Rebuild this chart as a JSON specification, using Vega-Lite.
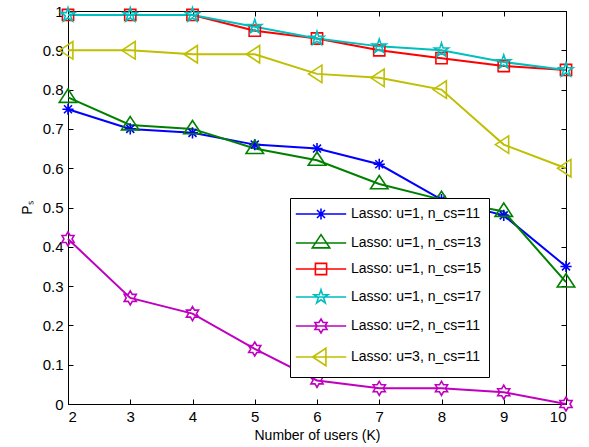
{
  "$schema": "https://vega.github.io/schema/vega-lite/v6.json",
  "width": 498,
  "height": 393,
  "autosize": {"type": "none"},
  "padding": {"left": 68, "top": 11, "right": 23, "bottom": 43},
  "background": "white",
  "config": {
    "font": "Liberation Sans",
    "view": {"stroke": "black", "strokeWidth": 1},
    "axis": {
      "grid": false,
      "domainColor": "black",
      "tickColor": "black",
      "labelColor": "black",
      "titleColor": "black",
      "labelFont": "Liberation Sans",
      "titleFont": "Liberation Sans",
      "labelFontSize": 15,
      "titleFontSize": 14,
      "titleFontWeight": "normal",
      "tickSize": -5,
      "labelPadding": 10
    },
    "legend": {
      "labelFont": "Liberation Sans",
      "labelFontSize": 14,
      "labelColor": "black"
    }
  },
  "data": {
    "values": [
      {"K": 2, "series": "Lasso: u=1, n_cs=11", "Ps": 0.75},
      {"K": 3, "series": "Lasso: u=1, n_cs=11", "Ps": 0.70},
      {"K": 4, "series": "Lasso: u=1, n_cs=11", "Ps": 0.69},
      {"K": 5, "series": "Lasso: u=1, n_cs=11", "Ps": 0.66},
      {"K": 6, "series": "Lasso: u=1, n_cs=11", "Ps": 0.65},
      {"K": 7, "series": "Lasso: u=1, n_cs=11", "Ps": 0.61},
      {"K": 8, "series": "Lasso: u=1, n_cs=11", "Ps": 0.52},
      {"K": 9, "series": "Lasso: u=1, n_cs=11", "Ps": 0.48},
      {"K": 10, "series": "Lasso: u=1, n_cs=11", "Ps": 0.35},
      {"K": 2, "series": "Lasso: u=1, n_cs=13", "Ps": 0.78},
      {"K": 3, "series": "Lasso: u=1, n_cs=13", "Ps": 0.71},
      {"K": 4, "series": "Lasso: u=1, n_cs=13", "Ps": 0.70},
      {"K": 5, "series": "Lasso: u=1, n_cs=13", "Ps": 0.65},
      {"K": 6, "series": "Lasso: u=1, n_cs=13", "Ps": 0.62},
      {"K": 7, "series": "Lasso: u=1, n_cs=13", "Ps": 0.56},
      {"K": 8, "series": "Lasso: u=1, n_cs=13", "Ps": 0.52},
      {"K": 9, "series": "Lasso: u=1, n_cs=13", "Ps": 0.49},
      {"K": 10, "series": "Lasso: u=1, n_cs=13", "Ps": 0.31},
      {"K": 2, "series": "Lasso: u=1, n_cs=15", "Ps": 0.99},
      {"K": 3, "series": "Lasso: u=1, n_cs=15", "Ps": 0.99},
      {"K": 4, "series": "Lasso: u=1, n_cs=15", "Ps": 0.99},
      {"K": 5, "series": "Lasso: u=1, n_cs=15", "Ps": 0.95},
      {"K": 6, "series": "Lasso: u=1, n_cs=15", "Ps": 0.93},
      {"K": 7, "series": "Lasso: u=1, n_cs=15", "Ps": 0.90},
      {"K": 8, "series": "Lasso: u=1, n_cs=15", "Ps": 0.88},
      {"K": 9, "series": "Lasso: u=1, n_cs=15", "Ps": 0.86},
      {"K": 10, "series": "Lasso: u=1, n_cs=15", "Ps": 0.85},
      {"K": 2, "series": "Lasso: u=1, n_cs=17", "Ps": 0.99},
      {"K": 3, "series": "Lasso: u=1, n_cs=17", "Ps": 0.99},
      {"K": 4, "series": "Lasso: u=1, n_cs=17", "Ps": 0.99},
      {"K": 5, "series": "Lasso: u=1, n_cs=17", "Ps": 0.96},
      {"K": 6, "series": "Lasso: u=1, n_cs=17", "Ps": 0.93},
      {"K": 7, "series": "Lasso: u=1, n_cs=17", "Ps": 0.91},
      {"K": 8, "series": "Lasso: u=1, n_cs=17", "Ps": 0.90},
      {"K": 9, "series": "Lasso: u=1, n_cs=17", "Ps": 0.87},
      {"K": 10, "series": "Lasso: u=1, n_cs=17", "Ps": 0.85},
      {"K": 2, "series": "Lasso: u=2, n_cs=11", "Ps": 0.42},
      {"K": 3, "series": "Lasso: u=2, n_cs=11", "Ps": 0.27},
      {"K": 4, "series": "Lasso: u=2, n_cs=11", "Ps": 0.23},
      {"K": 5, "series": "Lasso: u=2, n_cs=11", "Ps": 0.14},
      {"K": 6, "series": "Lasso: u=2, n_cs=11", "Ps": 0.06},
      {"K": 7, "series": "Lasso: u=2, n_cs=11", "Ps": 0.04},
      {"K": 8, "series": "Lasso: u=2, n_cs=11", "Ps": 0.04},
      {"K": 9, "series": "Lasso: u=2, n_cs=11", "Ps": 0.03},
      {"K": 10, "series": "Lasso: u=2, n_cs=11", "Ps": 0.00},
      {"K": 2, "series": "Lasso: u=3, n_cs=11", "Ps": 0.90},
      {"K": 3, "series": "Lasso: u=3, n_cs=11", "Ps": 0.90},
      {"K": 4, "series": "Lasso: u=3, n_cs=11", "Ps": 0.89},
      {"K": 5, "series": "Lasso: u=3, n_cs=11", "Ps": 0.89},
      {"K": 6, "series": "Lasso: u=3, n_cs=11", "Ps": 0.84},
      {"K": 7, "series": "Lasso: u=3, n_cs=11", "Ps": 0.83},
      {"K": 8, "series": "Lasso: u=3, n_cs=11", "Ps": 0.80},
      {"K": 9, "series": "Lasso: u=3, n_cs=11", "Ps": 0.66},
      {"K": 10, "series": "Lasso: u=3, n_cs=11", "Ps": 0.60}
    ]
  },
  "layer": [
    {
      "mark": {"type": "line", "strokeWidth": 2},
      "encoding": {
        "x": {"field": "K", "type": "quantitative", "scale": {"domain": [2, 10], "nice": false, "zero": false},
              "axis": {"orient": "bottom", "title": "Number of users (K)", "values": [2,3,4,5,6,7,8,9,10], "format": "d", "titlePadding": 4}},
        "y": {"field": "Ps", "type": "quantitative", "scale": {"domain": [0, 1], "nice": false},
              "axis": {"orient": "left", "title": "Pₛ", "values": [0,0.1,0.2,0.3,0.4,0.5,0.6,0.7,0.8,0.9,1], "format": "~g", "titlePadding": 8}},
        "color": {"field": "series", "type": "nominal", "legend": null,
          "scale": {"domain": ["Lasso: u=1, n_cs=11","Lasso: u=1, n_cs=13","Lasso: u=1, n_cs=15","Lasso: u=1, n_cs=17","Lasso: u=2, n_cs=11","Lasso: u=3, n_cs=11"],
                    "range": ["#0000FF","#008000","#FF0000","#00BFBF","#BF00BF","#BFBF00"]}}
      }
    },
    {
      "mark": {"type": "point", "filled": false, "strokeWidth": 1.6, "size": 196, "opacity": 1},
      "encoding": {
        "x": {"field": "K", "type": "quantitative",
              "axis": {"orient": "top", "title": null, "labels": false, "values": [2,3,4,5,6,7,8,9,10]}},
        "y": {"field": "Ps", "type": "quantitative",
              "axis": {"orient": "right", "title": null, "labels": false, "values": [0,0.1,0.2,0.3,0.4,0.5,0.6,0.7,0.8,0.9,1]}},
        "color": {"field": "series", "type": "nominal", "legend": null,
          "scale": {"domain": ["Lasso: u=1, n_cs=11","Lasso: u=1, n_cs=13","Lasso: u=1, n_cs=15","Lasso: u=1, n_cs=17","Lasso: u=2, n_cs=11","Lasso: u=3, n_cs=11"],
                    "range": ["#0000FF","#008000","#FF0000","#00BFBF","#BF00BF","#BFBF00"]}},
        "shape": {"field": "series", "type": "nominal", "legend": null,
          "scale": {"domain": ["Lasso: u=1, n_cs=11","Lasso: u=1, n_cs=13","Lasso: u=1, n_cs=15","Lasso: u=1, n_cs=17","Lasso: u=2, n_cs=11","Lasso: u=3, n_cs=11"],
                    "range": [
                      "M-0.8,0L0.8,0M0,-0.8L0,0.8M-0.57,-0.57L0.57,0.57M-0.57,0.57L0.57,-0.57",
                      "M0,-1.2L1.25,0.7L-1.25,0.7Z",
                      "M-0.8,-0.8L0.8,-0.8L0.8,0.8L-0.8,0.8Z",
                      "M0,-1.05L0.236,-0.324L0.999,-0.324L0.381,0.124L0.617,0.849L0,0.401L-0.617,0.849L-0.381,0.124L-0.999,-0.324L-0.236,-0.324Z",
                      "M0,-1L0.289,-0.5L0.866,-0.5L0.577,0L0.866,0.5L0.289,0.5L0,1L-0.289,0.5L-0.866,0.5L-0.577,0L-0.866,-0.5L-0.289,-0.5Z",
                      "M-1.2,0L0.7,-1.25L0.7,1.25Z"
                    ]}}
      }
    },
    {
      "transform": [{"filter": "false"}],
      "mark": {"type": "point", "filled": false, "strokeWidth": 1.6, "size": 196, "opacity": 1},
      "encoding": {
        "x": {"field": "K", "type": "quantitative", "axis": null},
        "y": {"field": "Ps", "type": "quantitative", "axis": null},
        "color": {"field": "series", "type": "nominal",
          "scale": {"domain": ["Lasso: u=1, n_cs=11","Lasso: u=1, n_cs=13","Lasso: u=1, n_cs=15","Lasso: u=1, n_cs=17","Lasso: u=2, n_cs=11","Lasso: u=3, n_cs=11"],
                    "range": ["#0000FF","#008000","#FF0000","#00BFBF","#BF00BF","#BFBF00"]},
          "legend": {"title": null, "orient": "none", "legendX": 222, "legendY": 187,
                     "strokeColor": "black", "fillColor": "white", "padding": 8, "cornerRadius": 0,
                     "symbolSize": 196, "symbolStrokeWidth": 1.6, "symbolOffset": 15, "labelOffset": 22, "rowPadding": 8,
                     "labelLimit": 300}},
        "shape": {"field": "series", "type": "nominal",
          "scale": {"domain": ["Lasso: u=1, n_cs=11","Lasso: u=1, n_cs=13","Lasso: u=1, n_cs=15","Lasso: u=1, n_cs=17","Lasso: u=2, n_cs=11","Lasso: u=3, n_cs=11"],
                    "range": [
                      "M-3.6,0L3.6,0M-0.8,0L0.8,0M0,-0.8L0,0.8M-0.57,-0.57L0.57,0.57M-0.57,0.57L0.57,-0.57",
                      "M-3.6,0L3.6,0M0,-1.2L1.25,0.7L-1.25,0.7Z",
                      "M-3.6,0L3.6,0M-0.8,-0.8L0.8,-0.8L0.8,0.8L-0.8,0.8Z",
                      "M-3.6,0L3.6,0M0,-1.05L0.236,-0.324L0.999,-0.324L0.381,0.124L0.617,0.849L0,0.401L-0.617,0.849L-0.381,0.124L-0.999,-0.324L-0.236,-0.324Z",
                      "M-3.6,0L3.6,0M0,-1L0.289,-0.5L0.866,-0.5L0.577,0L0.866,0.5L0.289,0.5L0,1L-0.289,0.5L-0.866,0.5L-0.577,0L-0.866,-0.5L-0.289,-0.5Z",
                      "M-3.6,0L3.6,0M-1.2,0L0.7,-1.25L0.7,1.25Z"
                    ]},
          "legend": {"title": null, "orient": "none", "legendX": 222, "legendY": 187,
                     "strokeColor": "black", "fillColor": "white", "padding": 8, "cornerRadius": 0,
                     "symbolSize": 196, "symbolStrokeWidth": 1.6, "symbolOffset": 15, "labelOffset": 22, "rowPadding": 8,
                     "labelLimit": 300}}
      }
    }
  ],
  "resolve": {"axis": {"x": "independent", "y": "independent"}, "scale": {"shape": "independent", "color": "independent"}}
}
